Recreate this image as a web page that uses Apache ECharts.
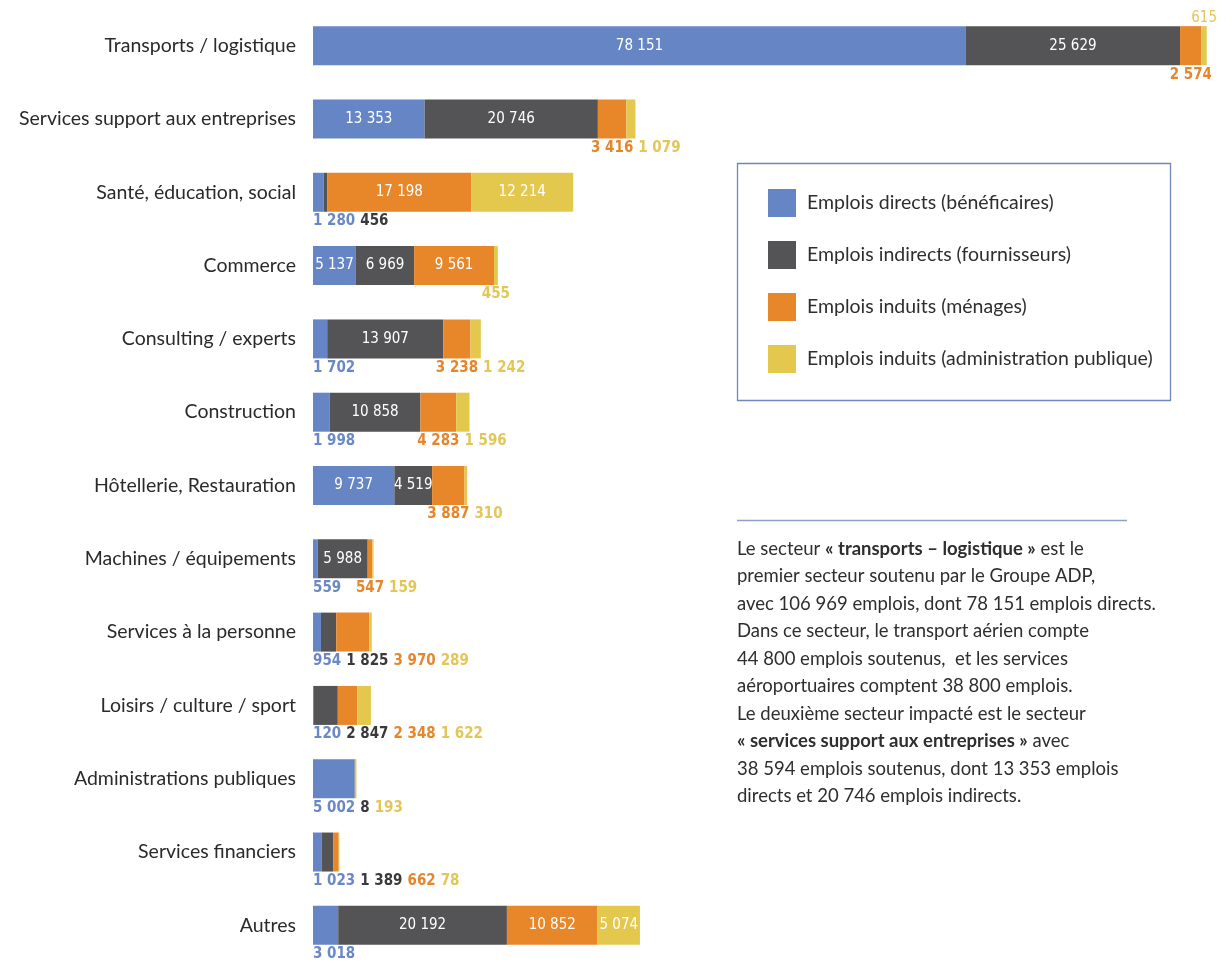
<!DOCTYPE html>
<html lang="fr">
<head>
<meta charset="utf-8">
<title>Emplois soutenus par secteur</title>
<script src="https://cdn.jsdelivr.net/npm/echarts@6/dist/echarts.min.js"></script>
<style>
  html, body { margin: 0; padding: 0; background: #ffffff; }
  #chart { width: 1232px; height: 965px; }
</style>
</head>
<body>
<div id="chart"></div>
<script>
// Secteurs (ordre d'affichage, de haut en bas)
const categories = [
  'Transports / logistique',
  'Services support aux entreprises',
  'Santé, éducation, social',
  'Commerce',
  'Consulting / experts',
  'Construction',
  'Hôtellerie, Restauration',
  'Machines / équipements',
  'Services à la personne',
  'Loisirs / culture / sport',
  'Administrations publiques',
  'Services financiers',
  'Autres'
];

const seriesNames = [
  'Emplois directs (bénéficaires)',
  'Emplois indirects (fournisseurs)',
  'Emplois induits (ménages)',
  'Emplois induits (administration publique)'
];

// Nombre d'emplois par secteur
const emploisDirects   = [78151, 13353, 1280, 5137, 1702, 1998, 9737, 559, 954, 120, 5002, 1023, 3018];
const emploisIndirects = [25629, 20746, 456, 6969, 13907, 10858, 4519, 5988, 1825, 2847, 8, 1389, 20192];
const emploisMenages   = [2574, 3416, 17198, 9561, 3238, 4283, 3887, 547, 3970, 2348, null, 662, 10852];
const emploisAdmin     = [615, 1079, 12214, 455, 1242, 1596, 310, 159, 289, 1622, 193, 78, 5074];

// ---- presentation ----
const barColors   = ['#6685c4', '#545456', '#e8862a', '#e4c84e'];
const labelColors = ['#6a88c6', '#3a3a3c', '#e5852c', '#e3c65a'];

// Segments whose value is written inside the bar, and the one written above it
const insideLabels = [
  ['Transports / logistique', 'Services support aux entreprises', 'Commerce', 'Hôtellerie, Restauration'],
  ['Transports / logistique', 'Services support aux entreprises', 'Commerce', 'Consulting / experts',
   'Construction', 'Hôtellerie, Restauration', 'Machines / équipements', 'Autres'],
  ['Santé, éducation, social', 'Commerce', 'Autres'],
  ['Santé, éducation, social', 'Autres']
];
const aboveLabels = [[], [], [], ['Transports / logistique']];

const numFont = "'DejaVu Sans Condensed', 'Liberation Sans', sans-serif";
const textFont = "Lato, 'Open Sans', sans-serif";
const insideSize = 15;
const outsideSize = 15;

function fmt(v) {
  return String(v).replace(/\B(?=(\d{3})+(?!\d))/g, ' ');
}

const measureCtx = document.createElement('canvas').getContext('2d');
function textWidth(str, font) {
  measureCtx.font = font;
  return measureCtx.measureText(str).width;
}

const values = [emploisDirects, emploisIndirects, emploisMenages, emploisAdmin];

const chart = echarts.init(document.getElementById('chart'), null, { renderer: 'canvas' });

const paragraph =
  'Le secteur {b|« transports – logistique »} est le\n' +
  'premier secteur soutenu par le Groupe ADP,\n' +
  'avec 106 969 emplois, dont 78 151 emplois directs.\n' +
  'Dans ce secteur, le transport aérien compte\n' +
  '44 800 emplois soutenus,  et les services\n' +
  'aéroportuaires comptent 38 800 emplois.\n' +
  'Le deuxième secteur impacté est le secteur\n' +
  '{b|« services support aux entreprises »} avec\n' +
  '38 594 emplois soutenus, dont 13 353 emplois\n' +
  'directs et 20 746 emplois indirects.';

const baseOption = {
  animation: false,
  backgroundColor: '#ffffff',
  grid: { left: 313, right: 0, top: 9, bottom: 3, containLabel: false },
  xAxis: {
    type: 'value', min: 0, max: 110000, show: false,
    splitLine: { show: false }
  },
  yAxis: {
    type: 'category',
    data: categories,
    inverse: true,
    axisLine: { show: false },
    axisTick: { show: false },
    splitLine: { show: false },
    axisLabel: {
      margin: 17,
      fontSize: 19.5,
      color: '#2a2a2a',
      fontFamily: textFont
    }
  },
  legend: {
    orient: 'vertical',
    left: 768,
    top: 189,
    padding: 0,
    itemWidth: 28,
    itemHeight: 28,
    itemGap: 24,
    icon: 'rect',
    selectedMode: false,
    data: seriesNames,
    textStyle: {
      fontSize: 19.5,
      color: '#2e2e2e',
      fontFamily: textFont,
      padding: [0, 0, 0, 6]
    }
  },
  graphic: [
    {
      type: 'rect',
      shape: { x: 737.5, y: 163.5, width: 433, height: 237 },
      style: { fill: 'none', stroke: '#6f88b8', lineWidth: 1.3 },
      silent: true
    },
    {
      type: 'line',
      shape: { x1: 737, y1: 520.5, x2: 1127, y2: 520.5 },
      style: { stroke: '#8ea2c6', lineWidth: 1.3 },
      silent: true
    },
    {
      type: 'text',
      left: 737,
      top: 535,
      silent: true,
      style: {
        text: paragraph,
        fill: '#2e2e2e',
        font: '18.5px ' + textFont,
        lineHeight: 27.5,
        rich: {
          b: { fontWeight: 'bold', fontSize: 18.5, fontFamily: textFont, lineHeight: 27.5, fill: '#2e2e2e' }
        }
      }
    }
  ],
  series: seriesNames.map((name, si) => ({
    name: name,
    type: 'bar',
    stack: 'emplois',
    barWidth: 39,
    itemStyle: { color: barColors[si] },
    data: values[si]
  }))
};

chart.setOption(baseOption);

// Place the value labels from the axis scale: inside, above, or in a row under the bar
const barLeft = chart.convertToPixel({ xAxisIndex: 0 }, 0);
const gap = 5;
const outFont = 'bold ' + outsideSize + 'px ' + numFont;
const seriesData = values.map(() => []);

categories.forEach((cat, ci) => {
  let cum = 0;
  let prevRight = -Infinity;
  values.forEach((vals, si) => {
    const v = vals[ci];
    if (v == null) { seriesData[si].push(null); return; }
    const x0 = chart.convertToPixel({ xAxisIndex: 0 }, cum);
    const x1 = chart.convertToPixel({ xAxisIndex: 0 }, cum + v);
    cum += v;
    const txt = fmt(v);
    let label;
    if (insideLabels[si].includes(cat)) {
      label = {
        show: true, position: 'inside', formatter: txt,
        color: '#ffffff', fontSize: insideSize, fontFamily: numFont
      };
    } else if (aboveLabels[si].includes(cat)) {
      label = {
        show: true, position: 'top', distance: 1, formatter: txt,
        color: labelColors[si], fontSize: outsideSize, fontFamily: numFont
      };
    } else {
      const w = textWidth(txt, outFont);
      const center = (x0 + x1) / 2;
      const left = Math.max(center - w / 2, prevRight + gap, barLeft);
      prevRight = left + w;
      label = {
        show: true, position: 'bottom', distance: 2, formatter: txt,
        offset: [left + w / 2 - center, 0],
        color: labelColors[si], fontSize: outsideSize, fontWeight: 'bold', fontFamily: numFont
      };
    }
    seriesData[si].push({ value: v, label: label });
  });
});

chart.setOption({
  series: seriesData.map(d => ({ data: d }))
});
</script>
</body>
</html>
